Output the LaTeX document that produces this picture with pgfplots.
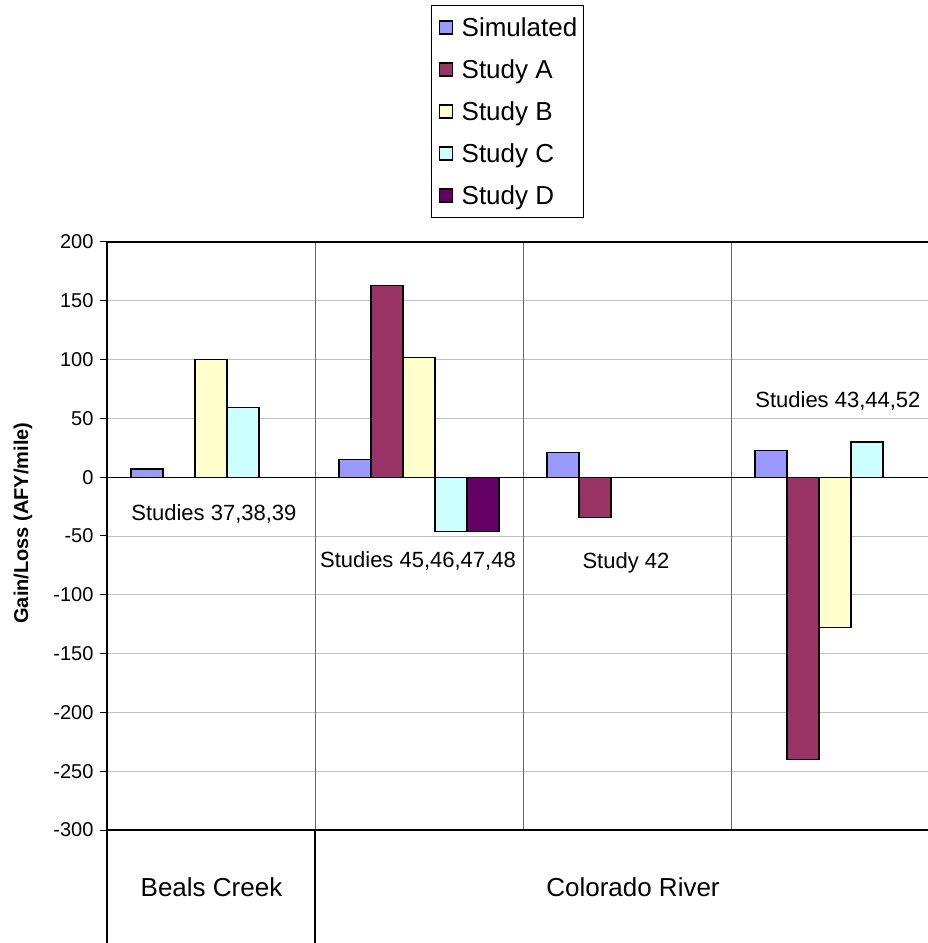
\documentclass[border=0pt]{standalone}
\usepackage{fontspec}
\setmainfont{Liberation Sans}
\usepackage{pgfplots}
\pgfplotsset{compat=1.18}
\definecolor{csim}{HTML}{9999FF}
\definecolor{cA}{HTML}{993366}
\definecolor{cB}{HTML}{FFFFCC}
\definecolor{cC}{HTML}{CCFFFF}
\definecolor{cD}{HTML}{660066}
\pgfplotsset{legimg/.style={legend image code/.code={\path[draw=none, fill=none] (0pt,0pt) -- (24pt,0pt);\draw[##1, draw=black, line width=1.3pt] (4pt,-6.5pt) rectangle (17pt,6.5pt);}}}
\begin{document}
\begin{tikzpicture}
\begin{axis}[
  scale only axis, width=821pt, height=588pt,
  xmin=0, xmax=3.947, ymin=-300, ymax=200,
  ytick={-300,-250,...,200}, xtick=\empty,
  ytick pos=left, tick align=outside, major tick length=7pt,
  ytick style={black, line width=1pt},
  ymajorgrids, grid style={draw=black!25, line width=0.9pt},
  axis line style={draw=none},
  /pgf/number format/assume math mode=true,
  yticklabel style={font=\fontsize{20}{24}\selectfont, xshift=-3pt},
  ylabel={Gain/Loss (AFY/mile)},
  ylabel style={font=\fontsize{20}{24}\selectfont\bfseries, at={(axis description cs:-0.1023,0.522)}, anchor=center},
  ybar=0pt, bar width=32pt,
  legend style={at={(0.4878,1.403)}, anchor=north, draw=black, line width=1.2pt,
    font=\fontsize{26}{30}\selectfont, legend cell align=left,
    inner xsep=4pt, inner ysep=8pt,
    nodes={inner sep=2pt, text height=21pt, text depth=3pt}, row sep=14pt},
  clip=false,
]
\draw[black!60, line width=1pt] (axis cs:1,-300) -- (axis cs:1,200);
\draw[black!60, line width=1pt] (axis cs:2,-300) -- (axis cs:2,200);
\draw[black!60, line width=1pt] (axis cs:3,-300) -- (axis cs:3,200);
\addplot[fill=csim, draw=black, line width=1.3pt, legimg] coordinates {(0.5,7) (1.5,15) (2.5,21) (3.5,23)};
\addplot[fill=cA, draw=black, line width=1.3pt, legimg] coordinates {(1.5,163) (2.5,-34) (3.5,-240)};
\addplot[fill=cB, draw=black, line width=1.3pt, legimg] coordinates {(0.5,100) (1.5,102) (3.5,-128)};
\addplot[fill=cC, draw=black, line width=1.3pt, legimg] coordinates {(0.5,59) (1.5,-46) (3.5,30)};
\addplot[fill=cD, draw=black, line width=1.3pt, legimg] coordinates {(1.5,-46)};
\legend{Simulated, Study A, Study B, Study C, Study D}
\draw[black, line width=1.2pt] (axis cs:0,0) -- (axis cs:3.947,0);
\node[font=\fontsize{22}{26}\selectfont] at (axis cs:0.514,-31) {Studies 37,38,39};
\node[font=\fontsize{22}{26}\selectfont] at (axis cs:1.495,-71.5) {Studies 45,46,47,48};
\node[font=\fontsize{22}{26}\selectfont] at (axis cs:2.495,-73) {Study 42};
\node[font=\fontsize{22}{26}\selectfont] at (axis cs:3.514,64.6) {Studies 43,44,52};
\end{axis}
\draw[black, line width=1.8pt] (821pt,588pt) -- (0pt,588pt) -- (0pt,-113pt);
\draw[black, line width=1.8pt] (0pt,0pt) -- (821pt,0pt);
\draw[black, line width=1.5pt] (208pt,0pt) -- (208pt,-113pt);
\node[font=\fontsize{26}{30}\selectfont] at (104.5pt,-57pt) {Beals Creek};
\node[font=\fontsize{26}{30}\selectfont] at (526pt,-57pt) {Colorado River};
\pgfresetboundingbox
\path (-107pt,-113pt) rectangle (821pt,830pt);
\end{tikzpicture}
\end{document}
